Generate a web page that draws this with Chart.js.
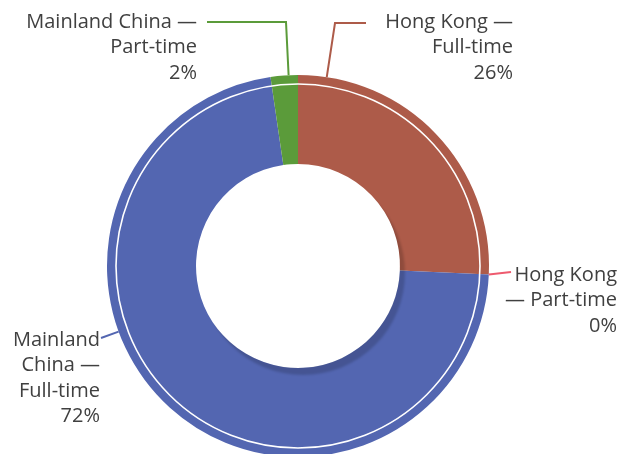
<!DOCTYPE html>
<html>
<head>
<meta charset="utf-8">
<script src="https://cdn.jsdelivr.net/npm/chart.js@4/dist/chart.umd.min.js"></script>
<style>
  html, body { margin: 0; padding: 0; background: #fff; overflow: hidden; }
  #wrap { width: 620px; height: 454px; position: relative; }
</style>
</head>
<body>
<div id="wrap"><canvas id="donut"></canvas></div>
<script>
var categories = ['Hong Kong — Full-time', 'Hong Kong — Part-time', 'Mainland China — Full-time', 'Mainland China — Part-time'];
var shares = [25.7, 0, 72.0, 2.3];
var shareLabels = ['26%', '0%', '72%', '2%'];
var sliceColors = ['#ad5b49', '#ee5a6e', '#5366b1', '#5b9b3a'];

// label text lines (as placed in the original)
var labelLines = [
    ['Hong Kong —', 'Full-time'],
    ['Hong Kong', '— Part-time'],
    ['Mainland', 'China —', 'Full-time'],
    ['Mainland China —', 'Part-time']
];

// where each label sits: right edge of text, centre of first line, leader points on the text side
var labelPlace = [
    { right: 513, top: 22, leader: [[366, 23], [335, 23]] },
    { right: 617, top: 275, leader: [[511, 272]] },
    { right: 100, top: 340, leader: [[101, 338]] },
    { right: 197, top: 22, leader: [[207, 22], [286, 22]] }
];

var labelFont = '20px "Open Sans", "Noto Sans", sans-serif';
var lineGap = 25.5;

var ringExtras = {
    id: 'ringExtras',
    afterDatasetsDraw: function (chart) {
        var ctx = chart.ctx;
        var meta = chart.getDatasetMeta(0);
        var arc = meta.data[0];
        var cx = arc.x, cy = arc.y;
        var outer = arc.outerRadius, inner = arc.innerRadius;

        // shadow inside the hole edge
        ctx.save();
        ctx.beginPath();
        ctx.arc(cx, cy, outer, 0, Math.PI * 2);
        ctx.arc(cx, cy, inner, 0, Math.PI * 2, true);
        ctx.clip();
        ctx.filter = 'blur(1px)';
        ctx.beginPath();
        ctx.arc(cx + 5, cy + 7, inner, 0, Math.PI * 2);
        ctx.fillStyle = 'rgba(0,0,0,0.17)';
        ctx.fill();
        ctx.restore();

        // thin white ring near the outer edge
        ctx.save();
        ctx.beginPath();
        ctx.arc(cx, cy, outer - 9, 0, Math.PI * 2);
        ctx.strokeStyle = '#ffffff';
        ctx.lineWidth = 1.6;
        ctx.stroke();
        ctx.restore();
    }
};

var sliceLabels = {
    id: 'sliceLabels',
    afterDraw: function (chart) {
        var ctx = chart.ctx;
        var meta = chart.getDatasetMeta(0);
        meta.data.forEach(function (arc, i) {
            var place = labelPlace[i];
            var cx = arc.x, cy = arc.y;
            var pts = place.leader;
            var last = pts[pts.length - 1];
            var ang = Math.atan2(last[1] - cy, last[0] - cx);
            // keep the angle within the slice
            var a = ang;
            while (a < arc.startAngle) a += Math.PI * 2;
            while (a > arc.startAngle + Math.PI * 2) a -= Math.PI * 2;
            if (a > arc.endAngle) {
                var dEnd = a - arc.endAngle;
                var dStart = arc.startAngle + Math.PI * 2 - a;
                a = dEnd < dStart ? arc.endAngle : arc.startAngle;
            }
            var ex = cx + Math.cos(a) * arc.outerRadius;
            var ey = cy + Math.sin(a) * arc.outerRadius;

            ctx.save();
            ctx.strokeStyle = sliceColors[i];
            ctx.lineWidth = 2;
            ctx.beginPath();
            ctx.moveTo(pts[0][0], pts[0][1]);
            for (var k = 1; k < pts.length; k++) ctx.lineTo(pts[k][0], pts[k][1]);
            ctx.lineTo(ex, ey);
            ctx.stroke();

            ctx.fillStyle = '#404040';
            ctx.font = labelFont;
            ctx.textAlign = 'right';
            ctx.textBaseline = 'middle';
            var lines = labelLines[i].concat([shareLabels[i]]);
            lines.forEach(function (t, j) {
                ctx.fillText(t, place.right, place.top + j * lineGap);
            });
            ctx.restore();
        });
    }
};

var chart = new Chart(document.getElementById('donut'), {
    type: 'doughnut',
    data: {
        labels: categories,
        datasets: [{
            data: shares,
            backgroundColor: sliceColors,
            borderWidth: 0
        }]
    },
    options: {
        responsive: true,
        maintainAspectRatio: false,
        animation: false,
        radius: 191,
        cutout: '53.4%',
        layout: { padding: { top: 78, bottom: 0, left: 0, right: 24 } },
        plugins: {
            legend: { display: false },
            tooltip: { enabled: false }
        }
    },
    plugins: [ringExtras, sliceLabels]
});
</script>
</body>
</html>
